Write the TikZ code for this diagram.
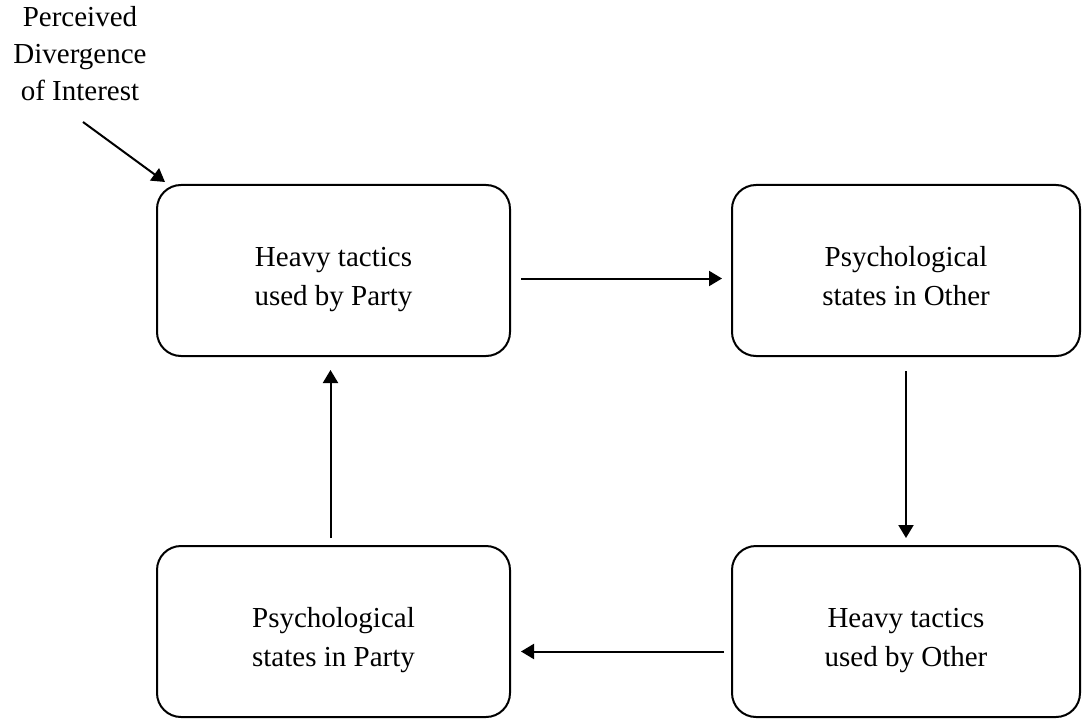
\documentclass[tikz,border=0pt]{standalone}
\usepackage{fontspec}
\setmainfont{Liberation Serif}
\usetikzlibrary{arrows.meta,calc}
\tikzset{
  box/.style={draw, line width=2pt, rounded corners=24pt, minimum width=353pt, minimum height=171pt, inner sep=0pt},
  boxr/.style={box, minimum width=348pt},
  lbl/.style={align=center, inner sep=0pt, font=\fontsize{29}{39}\selectfont},
  arr/.style={line width=2pt, -{Triangle[length=13pt,width=15pt]}}
}
\begin{document}
\begin{tikzpicture}[x=1pt,y=-1pt]
\useasboundingbox (0,0) rectangle (1083,719);
% boxes
\node[box]  (hp) at (333.5,270.5) {};
\node[boxr] (po) at (906,270.5) {};
\node[boxr] (ho) at (906,631.5) {};
\node[box]  (pp) at (333.5,631.5) {};
% texts
\node[lbl] (hpt) at ($(hp.center)+(0,8)$) {\strut Heavy tactics\\\strut used by Party};
\node[lbl] (pot) at ($(po.center)+(0,8)$) {\strut Psychological\\\strut states in Other};
\node[lbl] (hot) at ($(ho.center)+(0,8)$) {\strut Heavy tactics\\\strut used by Other};
\node[lbl] (ppt) at ($(pp.center)+(0,8)$) {\strut Psychological\\\strut states in Party};
\node[lbl, anchor=north, font=\fontsize{29}{37}\selectfont] (title) at (80,6) {Perceived\\Divergence\\of Interest};
% connectors
\coordinate (ds) at (83,122);
\coordinate (de) at (165,182);
\draw[arr] (ds) -- (de);
\draw[arr] ($(hp.east)+(10,8)$) -- ($(po.west)+(-9,8)$);
\draw[arr] ($(po.south)+(0,14)$) -- ($(ho.north)+(0,-7)$);
\draw[arr] ($(ho.west)+(-7,20)$) -- ($(pp.east)+(10,20)$);
\draw[arr] ($(pp.north)+(-3,-7)$) -- ($(hp.south)+(-3,13)$);
\end{tikzpicture}
\end{document}
